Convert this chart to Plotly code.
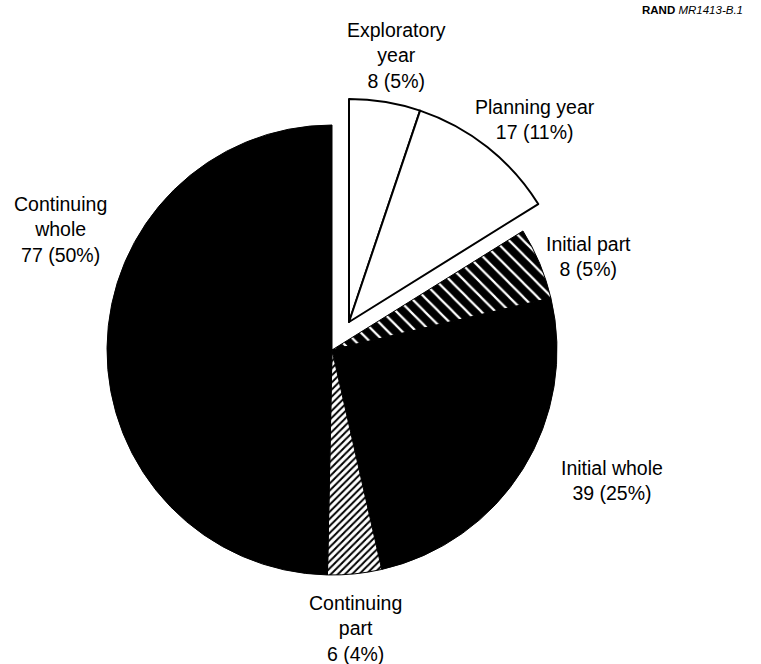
import plotly.graph_objects as go

# Data
labels = ["Exploratory year", "Planning year", "Initial part", "Initial whole", "Continuing part", "Continuing whole"]
label_lines = ["Exploratory<br>year", "Planning year", "Initial part", "Initial whole", "Continuing<br>part", "Continuing<br>whole"]
values = [8, 17, 8, 39, 6, 77]
total = sum(values)

W, H = 761, 664

def dom(cx, cy, r):
    return dict(x=[(cx - r) / W, (cx + r) / W], y=[(H - cy - r) / H, (H - cy + r) / H])

R = 225
# main pie: the two pulled slices are replaced by a transparent gap
main_vals = [values[0] + values[1]] + values[2:]
main_colors = ["rgba(0,0,0,0)", "black", "black", "white", "black"]
main_shapes = ["", "\\", "", "/", ""]
main_bg = ["rgba(0,0,0,0)", "black", "black", "white", "black"]
main_fg = ["rgba(0,0,0,0)", "white", "black", "black", "black"]
main_size = [8, 10, 8, 5, 8]
main_sol = [0.3, 0.22, 0.3, 0.4, 0.3]

fig = go.Figure()
fig.add_trace(go.Pie(
    values=main_vals, sort=False, direction="clockwise", rotation=0,
    textinfo="none", hoverinfo="skip", showlegend=False,
    domain=dom(332, 350, R),
    marker=dict(colors=main_colors,
                line=dict(color="black", width=[0, 1, 1, 1, 1]),
                pattern=dict(shape=main_shapes, bgcolor=main_bg, fgcolor=main_fg,
                             size=main_size, solidity=main_sol, fillmode="replace")),
))

# pulled-out group (exploratory + planning)
pull_vals = values[:2] + [total - values[0] - values[1]]
fig.add_trace(go.Pie(
    values=pull_vals, sort=False, direction="clockwise", rotation=0,
    textinfo="none", hoverinfo="skip", showlegend=False,
    domain=dom(349, 322, R - 2),
    marker=dict(colors=["white", "white", "rgba(0,0,0,0)"],
                line=dict(color="black", width=[2, 2, 0])),
))

# labels
label_pos = [(396, 55), (535, 119), (588, 256), (612, 480), (355, 628), (60, 230)]
for i, (x, y) in enumerate(label_pos):
    pct = round(values[i] / total * 100)
    fig.add_annotation(
        x=x / W, y=(H - y) / H, xref="paper", yref="paper",
        text=f"{label_lines[i]}<br>{values[i]} ({pct}%)",
        showarrow=False, xanchor="center", yanchor="middle", align="center",
        font=dict(family="Liberation Sans, Arial, sans-serif", size=19.5, color="black"),
    )

fig.add_annotation(
    x=745 / W, y=(H - 10) / H, xref="paper", yref="paper",
    text="<b>RAND</b> <i>MR1413-B.1</i>", showarrow=False,
    xanchor="right", yanchor="middle",
    font=dict(family="Liberation Sans, Arial, sans-serif", size=11.5, color="black"),
)

fig.update_layout(
    width=W, height=H, margin=dict(l=0, r=0, t=0, b=0),
    paper_bgcolor="white", plot_bgcolor="white",
)

fig.write_html("out.html")
